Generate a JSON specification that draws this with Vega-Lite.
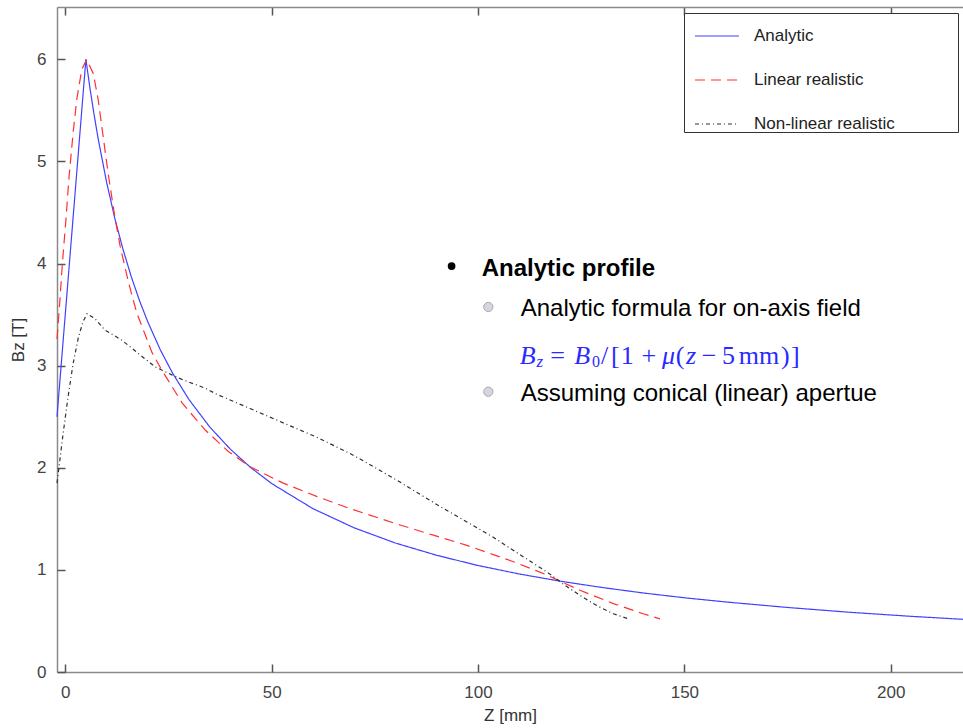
{
  "$schema": "https://vega.github.io/schema/vega-lite/v6.json",
  "width": 906,
  "height": 665,
  "autosize": "none",
  "padding": {"left": 57, "top": 7, "right": 0, "bottom": 56},
  "background": "white",
  "config": {"view": {"stroke": null}, "font": "Liberation Sans"},
  "resolve": {"axis": {"x": "independent", "y": "independent"}},
  "datasets": {
    "curves": [
      {"series": "Analytic", "z": -2, "B": 2.5}, {"series": "Analytic", "z": 5, "B": 6.0}, {"series": "Analytic", "z": 6, "B": 5.714}, {"series": "Analytic", "z": 7, "B": 5.455}, {"series": "Analytic", "z": 8, "B": 5.217}, {"series": "Analytic", "z": 10, "B": 4.8}, {"series": "Analytic", "z": 12, "B": 4.444}, {"series": "Analytic", "z": 14, "B": 4.138}, {"series": "Analytic", "z": 16, "B": 3.871}, {"series": "Analytic", "z": 18, "B": 3.636}, {"series": "Analytic", "z": 20, "B": 3.429}, {"series": "Analytic", "z": 23, "B": 3.158}, {"series": "Analytic", "z": 26, "B": 2.927}, {"series": "Analytic", "z": 30, "B": 2.667}, {"series": "Analytic", "z": 35, "B": 2.4}, {"series": "Analytic", "z": 40, "B": 2.182}, {"series": "Analytic", "z": 45, "B": 2.0}, {"series": "Analytic", "z": 50, "B": 1.846}, {"series": "Analytic", "z": 60, "B": 1.6}, {"series": "Analytic", "z": 70, "B": 1.412}, {"series": "Analytic", "z": 80, "B": 1.263}, {"series": "Analytic", "z": 90, "B": 1.143}, {"series": "Analytic", "z": 100, "B": 1.043}, {"series": "Analytic", "z": 110, "B": 0.96}, {"series": "Analytic", "z": 120, "B": 0.889}, {"series": "Analytic", "z": 130, "B": 0.828}, {"series": "Analytic", "z": 140, "B": 0.774}, {"series": "Analytic", "z": 150, "B": 0.727}, {"series": "Analytic", "z": 160, "B": 0.686}, {"series": "Analytic", "z": 175, "B": 0.632}, {"series": "Analytic", "z": 190, "B": 0.585}, {"series": "Analytic", "z": 205, "B": 0.545}, {"series": "Analytic", "z": 217.5, "B": 0.516},
      {"series": "Linear realistic", "z": -2, "B": 3.26}, {"series": "Linear realistic", "z": -1.3, "B": 3.64}, {"series": "Linear realistic", "z": -0.7, "B": 4.0}, {"series": "Linear realistic", "z": 0.2, "B": 4.45}, {"series": "Linear realistic", "z": 0.9, "B": 4.84}, {"series": "Linear realistic", "z": 1.9, "B": 5.28}, {"series": "Linear realistic", "z": 2.8, "B": 5.61}, {"series": "Linear realistic", "z": 4.0, "B": 5.9}, {"series": "Linear realistic", "z": 5.2, "B": 6.0}, {"series": "Linear realistic", "z": 6.8, "B": 5.86}, {"series": "Linear realistic", "z": 8.0, "B": 5.6}, {"series": "Linear realistic", "z": 9.2, "B": 5.24}, {"series": "Linear realistic", "z": 10.4, "B": 4.88}, {"series": "Linear realistic", "z": 12.0, "B": 4.46}, {"series": "Linear realistic", "z": 13.3, "B": 4.17}, {"series": "Linear realistic", "z": 15.3, "B": 3.82}, {"series": "Linear realistic", "z": 17.3, "B": 3.52}, {"series": "Linear realistic", "z": 19.3, "B": 3.31}, {"series": "Linear realistic", "z": 21, "B": 3.13}, {"series": "Linear realistic", "z": 23.2, "B": 2.97}, {"series": "Linear realistic", "z": 28.4, "B": 2.63}, {"series": "Linear realistic", "z": 33.9, "B": 2.37}, {"series": "Linear realistic", "z": 39.5, "B": 2.16}, {"series": "Linear realistic", "z": 44.8, "B": 2.01}, {"series": "Linear realistic", "z": 52.8, "B": 1.85}, {"series": "Linear realistic", "z": 60.9, "B": 1.72}, {"series": "Linear realistic", "z": 69, "B": 1.6}, {"series": "Linear realistic", "z": 81.1, "B": 1.44}, {"series": "Linear realistic", "z": 89.2, "B": 1.34}, {"series": "Linear realistic", "z": 97.3, "B": 1.24}, {"series": "Linear realistic", "z": 103.7, "B": 1.15}, {"series": "Linear realistic", "z": 108.6, "B": 1.08}, {"series": "Linear realistic", "z": 116.7, "B": 0.95}, {"series": "Linear realistic", "z": 124.7, "B": 0.8}, {"series": "Linear realistic", "z": 132.8, "B": 0.67}, {"series": "Linear realistic", "z": 140, "B": 0.57}, {"series": "Linear realistic", "z": 144.1, "B": 0.52},
      {"series": "Non-linear realistic", "z": -2, "B": 1.85}, {"series": "Non-linear realistic", "z": -0.5, "B": 2.34}, {"series": "Non-linear realistic", "z": 0.7, "B": 2.7}, {"series": "Non-linear realistic", "z": 1.9, "B": 3.02}, {"series": "Non-linear realistic", "z": 3.2, "B": 3.28}, {"series": "Non-linear realistic", "z": 4.3, "B": 3.43}, {"series": "Non-linear realistic", "z": 5.3, "B": 3.51}, {"series": "Non-linear realistic", "z": 7.2, "B": 3.46}, {"series": "Non-linear realistic", "z": 9.6, "B": 3.35}, {"series": "Non-linear realistic", "z": 13.7, "B": 3.25}, {"series": "Non-linear realistic", "z": 17.7, "B": 3.12}, {"series": "Non-linear realistic", "z": 21.7, "B": 2.99}, {"series": "Non-linear realistic", "z": 25.8, "B": 2.91}, {"series": "Non-linear realistic", "z": 28.6, "B": 2.86}, {"series": "Non-linear realistic", "z": 33.9, "B": 2.78}, {"series": "Non-linear realistic", "z": 36.7, "B": 2.72}, {"series": "Non-linear realistic", "z": 44.8, "B": 2.58}, {"series": "Non-linear realistic", "z": 52.8, "B": 2.44}, {"series": "Non-linear realistic", "z": 60.9, "B": 2.3}, {"series": "Non-linear realistic", "z": 69, "B": 2.14}, {"series": "Non-linear realistic", "z": 73, "B": 2.05}, {"series": "Non-linear realistic", "z": 81.1, "B": 1.86}, {"series": "Non-linear realistic", "z": 89.2, "B": 1.66}, {"series": "Non-linear realistic", "z": 97.3, "B": 1.47}, {"series": "Non-linear realistic", "z": 103.7, "B": 1.32}, {"series": "Non-linear realistic", "z": 108.6, "B": 1.19}, {"series": "Non-linear realistic", "z": 116.7, "B": 0.98}, {"series": "Non-linear realistic", "z": 120.7, "B": 0.86}, {"series": "Non-linear realistic", "z": 124.7, "B": 0.75}, {"series": "Non-linear realistic", "z": 128.8, "B": 0.65}, {"series": "Non-linear realistic", "z": 132.8, "B": 0.57}, {"series": "Non-linear realistic", "z": 136.5, "B": 0.52}
    ],
    "bullets": [
      {"kind": "main", "z": 93.6, "B": 3.976},
      {"kind": "sub", "z": 102.5, "B": 3.575},
      {"kind": "sub", "z": 102.5, "B": 2.745}
    ],
    "notes": [
      {"kind": "bold", "t": "Analytic profile", "z": 100.9, "B": 3.881},
      {"kind": "normal", "t": "Analytic formula for on-axis field", "z": 110.35, "B": 3.487},
      {"kind": "normal", "t": "Assuming conical (linear) apertue", "z": 110.35, "B": 2.657}
    ],
    "formula": [
      {"kind": "it", "t": "B", "z": 110.1, "B": 3.017},
      {"kind": "subit", "t": "z", "z": 114.2, "B": 2.985},
      {"kind": "up", "t": "=", "z": 117.5, "B": 3.017},
      {"kind": "it", "t": "B", "z": 123.3, "B": 3.017},
      {"kind": "subup", "t": "0", "z": 127.6, "B": 2.985},
      {"kind": "up", "t": "/", "z": 129.8, "B": 3.017},
      {"kind": "up", "t": "[", "z": 132.2, "B": 3.017},
      {"kind": "up", "t": "1", "z": 134.6, "B": 3.017},
      {"kind": "up", "t": "+", "z": 139.6, "B": 3.017},
      {"kind": "it", "t": "μ", "z": 144.6, "B": 3.017},
      {"kind": "up", "t": "(", "z": 147.9, "B": 3.017},
      {"kind": "it", "t": "z", "z": 150.4, "B": 3.017},
      {"kind": "up", "t": "−", "z": 154.2, "B": 3.017},
      {"kind": "up", "t": "5", "z": 159.1, "B": 3.017},
      {"kind": "up", "t": "mm", "z": 163.2, "B": 3.017},
      {"kind": "up", "t": ")", "z": 173.4, "B": 3.017},
      {"kind": "up", "t": "]", "z": 175.8, "B": 3.017}
    ]
  },
  "layer": [
    {
      "data": {"name": "curves"},
      "mark": {"type": "line", "strokeWidth": 1.2},
      "encoding": {
        "x": {"field": "z", "type": "quantitative", "scale": {"domain": [-2, 217.5], "nice": false, "zero": false},
          "axis": {"orient": "bottom", "values": [0, 50, 100, 150, 200], "grid": false, "ticks": false, "labelPadding": 12, "labelFontSize": 17, "labelColor": "#444", "labelFont": "Liberation Sans", "domainColor": "#8a8a8a", "domainWidth": 1.5, "title": "Z [mm]", "titleFontSize": 17, "titleFontWeight": "normal", "titleColor": "#333", "titleFont": "Liberation Sans", "titleX": 453, "titleY": 43, "titleAlign": "center", "titleBaseline": "middle"}},
        "y": {"field": "B", "type": "quantitative", "scale": {"domain": [0, 6.513], "nice": false, "zero": false},
          "axis": {"orient": "left", "values": [0, 1, 2, 3, 4, 5, 6], "grid": false, "ticks": false, "labelPadding": 11, "labelFontSize": 17, "labelColor": "#444", "labelFont": "Liberation Sans", "domainColor": "#8a8a8a", "domainWidth": 1.5, "title": "Bz [T]", "titleFontSize": 17, "titleFontWeight": "normal", "titleColor": "#333", "titleFont": "Liberation Sans", "titleAngle": -90, "titleX": -39, "titleY": 332.5, "titleAlign": "center", "titleBaseline": "middle"}},
        "color": {"field": "series", "type": "nominal",
          "scale": {"domain": ["Analytic", "Linear realistic", "Non-linear realistic"], "range": ["#4040ff", "#ff3030", "#303030"]},
          "legend": {"orient": "none", "legendX": 627, "legendY": 6, "title": "\u2800\u2800\u2800\u2800\u2800\u2800\u2800\u2800\u2800\u2800", "titleOrient": "right", "titlePadding": 10, "titleFontSize": 17, "titleColor": "#ffffff", "titleLimit": 55, "symbolType": "stroke", "symbolSize": 1936, "symbolStrokeWidth": 1.2, "symbolOffset": 10, "labelOffset": 14, "labelFont": "Liberation Sans", "labelFontSize": 17, "labelColor": "#222", "padding": 0, "rowPadding": 13, "strokeColor": "#333", "fillColor": "white", "labelLimit": 400}},
        "strokeDash": {"field": "series", "type": "nominal",
          "scale": {"domain": ["Analytic", "Linear realistic", "Non-linear realistic"], "range": [[1, 0], [10, 6], [4, 3, 1, 3]]},
          "legend": {"orient": "none", "legendX": 627, "legendY": 6, "title": "\u2800\u2800\u2800\u2800\u2800\u2800\u2800\u2800\u2800\u2800", "titleOrient": "right", "titlePadding": 10, "titleFontSize": 17, "titleColor": "#ffffff", "titleLimit": 55, "symbolType": "stroke", "symbolSize": 1936, "symbolStrokeWidth": 1.2, "symbolOffset": 10, "labelOffset": 14, "labelFont": "Liberation Sans", "labelFontSize": 17, "labelColor": "#222", "padding": 0, "rowPadding": 13, "strokeColor": "#333", "fillColor": "white", "labelLimit": 400}}
      }
    },
    {
      "data": {"name": "bullets"},
      "transform": [{"filter": "datum.kind == 'main'"}],
      "mark": {"type": "point", "filled": true, "color": "#000000", "size": 60, "opacity": 1},
      "encoding": {
        "x": {"field": "z", "type": "quantitative", "scale": {"domain": [-2, 217.5], "nice": false, "zero": false},
          "axis": {"orient": "top", "offset": -665, "values": [0, 50, 100, 150, 200], "labels": false, "title": null, "grid": false, "domain": false, "ticks": true, "tickSize": 8, "tickColor": "#555", "tickWidth": 1.5, "tickOpacity": 1}},
        "y": {"field": "B", "type": "quantitative", "scale": {"domain": [0, 6.513], "nice": false, "zero": false},
          "axis": {"orient": "right", "offset": -906, "values": [0, 1, 2, 3, 4, 5, 6], "labels": false, "title": null, "grid": false, "domain": false, "ticks": true, "tickSize": 8, "tickColor": "#555", "tickWidth": 1.5, "tickOpacity": 1}}
      }
    },
    {
      "data": {"name": "bullets"},
      "transform": [{"filter": "datum.kind == 'sub'"}],
      "mark": {"type": "point", "filled": true, "fill": "#d6d6de", "stroke": "#a8a8b0", "strokeWidth": 1, "size": 85, "opacity": 1},
      "encoding": {
        "x": {"field": "z", "type": "quantitative", "scale": {"domain": [-2, 217.5], "nice": false, "zero": false},
          "axis": {"orient": "bottom", "offset": -665, "values": [0, 50, 100, 150, 200], "labels": false, "title": null, "grid": false, "domain": true, "domainColor": "#8a8a8a", "domainWidth": 1.5, "ticks": true, "tickSize": 8, "tickColor": "#555", "tickWidth": 1.5, "tickOpacity": 1}},
        "y": {"field": "B", "type": "quantitative", "scale": {"domain": [0, 6.513], "nice": false, "zero": false}, "axis": null}
      }
    },
    {
      "data": {"name": "notes"},
      "transform": [{"filter": "datum.kind == 'bold'"}],
      "mark": {"type": "text", "align": "left", "baseline": "alphabetic", "font": "Liberation Sans", "fontSize": 24, "fontWeight": "bold", "color": "#000000"},
      "encoding": {
        "x": {"field": "z", "type": "quantitative", "scale": {"domain": [-2, 217.5], "nice": false, "zero": false}, "axis": null},
        "y": {"field": "B", "type": "quantitative", "scale": {"domain": [0, 6.513], "nice": false, "zero": false}, "axis": null},
        "text": {"field": "t"}
      }
    },
    {
      "data": {"name": "notes"},
      "transform": [{"filter": "datum.kind == 'normal'"}],
      "mark": {"type": "text", "align": "left", "baseline": "alphabetic", "font": "Liberation Sans", "fontSize": 24, "color": "#000000"},
      "encoding": {
        "x": {"field": "z", "type": "quantitative", "scale": {"domain": [-2, 217.5], "nice": false, "zero": false}, "axis": null},
        "y": {"field": "B", "type": "quantitative", "scale": {"domain": [0, 6.513], "nice": false, "zero": false}, "axis": null},
        "text": {"field": "t"}
      }
    },
    {
      "data": {"name": "formula"},
      "transform": [{"filter": "datum.kind == 'it'"}],
      "mark": {"type": "text", "align": "left", "baseline": "alphabetic", "font": "Liberation Serif", "fontSize": 26, "fontStyle": "italic", "color": "#2a2aff"},
      "encoding": {
        "x": {"field": "z", "type": "quantitative", "scale": {"domain": [-2, 217.5], "nice": false, "zero": false}, "axis": null},
        "y": {"field": "B", "type": "quantitative", "scale": {"domain": [0, 6.513], "nice": false, "zero": false}, "axis": null},
        "text": {"field": "t"}
      }
    },
    {
      "data": {"name": "formula"},
      "transform": [{"filter": "datum.kind == 'up'"}],
      "mark": {"type": "text", "align": "left", "baseline": "alphabetic", "font": "Liberation Serif", "fontSize": 26, "color": "#2a2aff"},
      "encoding": {
        "x": {"field": "z", "type": "quantitative", "scale": {"domain": [-2, 217.5], "nice": false, "zero": false}, "axis": null},
        "y": {"field": "B", "type": "quantitative", "scale": {"domain": [0, 6.513], "nice": false, "zero": false}, "axis": null},
        "text": {"field": "t"}
      }
    },
    {
      "data": {"name": "formula"},
      "transform": [{"filter": "datum.kind == 'subit'"}],
      "mark": {"type": "text", "align": "left", "baseline": "alphabetic", "font": "Liberation Serif", "fontSize": 17, "fontStyle": "italic", "color": "#2a2aff"},
      "encoding": {
        "x": {"field": "z", "type": "quantitative", "scale": {"domain": [-2, 217.5], "nice": false, "zero": false}, "axis": null},
        "y": {"field": "B", "type": "quantitative", "scale": {"domain": [0, 6.513], "nice": false, "zero": false}, "axis": null},
        "text": {"field": "t"}
      }
    },
    {
      "data": {"name": "formula"},
      "transform": [{"filter": "datum.kind == 'subup'"}],
      "mark": {"type": "text", "align": "left", "baseline": "alphabetic", "font": "Liberation Serif", "fontSize": 16, "color": "#2a2aff"},
      "encoding": {
        "x": {"field": "z", "type": "quantitative", "scale": {"domain": [-2, 217.5], "nice": false, "zero": false}, "axis": null},
        "y": {"field": "B", "type": "quantitative", "scale": {"domain": [0, 6.513], "nice": false, "zero": false}, "axis": null},
        "text": {"field": "t"}
      }
    }
  ]
}
